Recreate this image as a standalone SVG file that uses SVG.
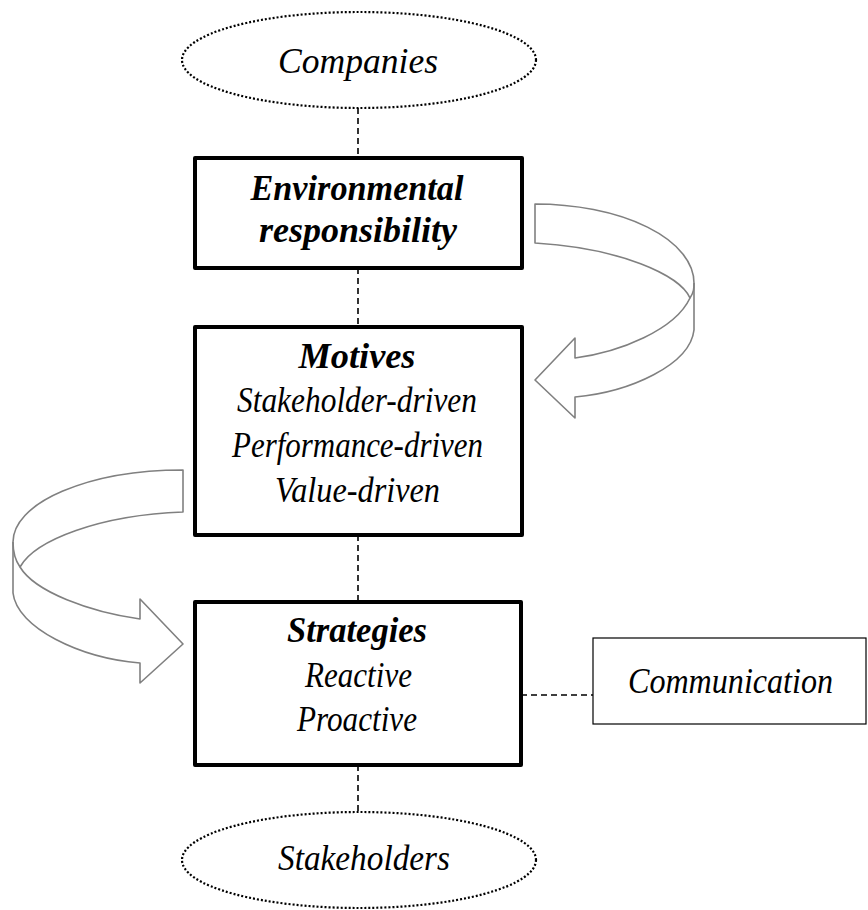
<svg xmlns="http://www.w3.org/2000/svg" width="868" height="910" viewBox="0 0 868 910">
<style>
text{font-family:"Liberation Serif","Times New Roman",serif;font-style:italic;font-size:36px;fill:#000;text-anchor:middle}
.b{font-weight:bold}
.box{fill:#fff;stroke:#000;stroke-width:4;stroke-linejoin:round}
.ell{fill:#fff;stroke:#000;stroke-width:2.2;stroke-dasharray:2 2}
.con{stroke:#000;stroke-width:1.6;stroke-dasharray:6 4;fill:none}
.arr{fill:#fff;stroke:#808080;stroke-width:1.6;stroke-linejoin:round}
.arrl{fill:none;stroke:#808080;stroke-width:1.6}
</style>
<rect width="868" height="910" fill="#fff"/>
<g id="connectors">
<line class="con" x1="358" y1="108" x2="358" y2="158"/>
<line class="con" x1="358" y1="268" x2="358" y2="327"/>
<line class="con" x1="358" y1="535" x2="358" y2="602"/>
<line class="con" x1="358" y1="765" x2="358" y2="812"/>
<line class="con" x1="521" y1="695" x2="593" y2="695"/>
</g>
<g id="arrow-right">
<path class="arr" d="M535,204 A159,79 0 0 1 694,283 L694,330 C690,365 630,392 575,397 L575,418 L535,380 L575,338 L575,358 C620,352 675,330 690,298 C680,275 620,248 535,243 Z"/>
<path class="arrl" d="M690,298 C694,292 694,288 694,283"/>
</g>
<g id="arrow-left">
<path class="arr" d="M183,470 A170,72 0 0 0 13,542 L13,593 C17,628 80,658 140,663 L140,683 L183,644 L140,599 L140,619 C90,612 35,592 20,567 C35,540 100,515 183,512 Z"/>
<path class="arrl" d="M20,567 C15,560 13,552 13,542"/>
</g>
<g id="companies">
<ellipse class="ell" cx="359" cy="60" rx="177" ry="48"/>
<text x="358" y="73" textLength="160" lengthAdjust="spacingAndGlyphs">Companies</text>
</g>
<g id="environmental">
<rect class="box" x="195" y="158" width="327" height="110"/>
<text class="b" x="357" y="200" textLength="213" lengthAdjust="spacingAndGlyphs">Environmental</text>
<text class="b" x="358" y="242" textLength="198" lengthAdjust="spacingAndGlyphs">responsibility</text>
</g>
<g id="motives">
<rect class="box" x="195" y="327" width="327" height="208"/>
<text class="b" x="357" y="368" textLength="117" lengthAdjust="spacingAndGlyphs">Motives</text>
<text x="357" y="412" textLength="240" lengthAdjust="spacingAndGlyphs">Stakeholder-driven</text>
<text x="357.5" y="457" textLength="251" lengthAdjust="spacingAndGlyphs">Performance-driven</text>
<text x="357.5" y="502" textLength="165" lengthAdjust="spacingAndGlyphs">Value-driven</text>
</g>
<g id="strategies">
<rect class="box" x="195" y="602" width="326" height="163"/>
<text class="b" x="357" y="642" textLength="140" lengthAdjust="spacingAndGlyphs">Strategies</text>
<text x="358.5" y="687" textLength="107" lengthAdjust="spacingAndGlyphs">Reactive</text>
<text x="357" y="731" textLength="120" lengthAdjust="spacingAndGlyphs">Proactive</text>
</g>
<g id="communication">
<rect x="593" y="638" width="273" height="86" fill="#fff" stroke="#000" stroke-width="1.2"/>
<text x="730.5" y="693" textLength="205" lengthAdjust="spacingAndGlyphs">Communication</text>
</g>
<g id="stakeholders">
<ellipse class="ell" cx="359" cy="860" rx="177" ry="48"/>
<text x="364" y="870" textLength="172" lengthAdjust="spacingAndGlyphs">Stakeholders</text>
</g>
</svg>
